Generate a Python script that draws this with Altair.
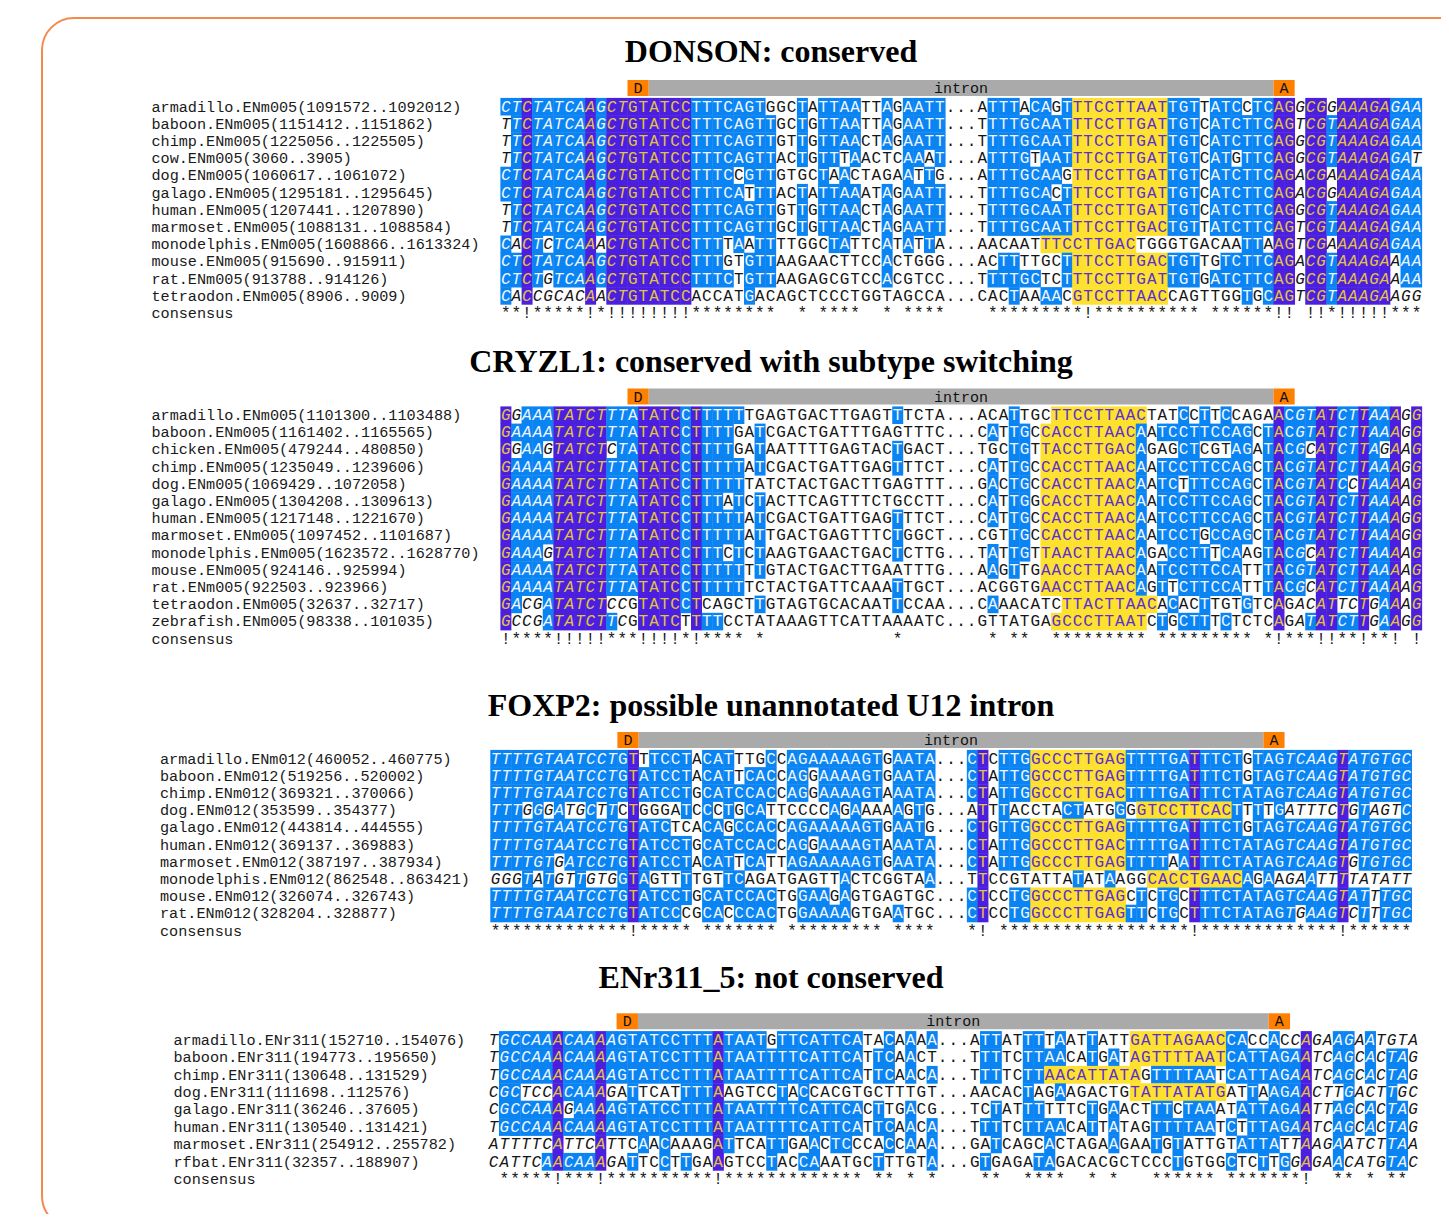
import altair as alt
import pandas as pd
from collections import Counter

# ---------------- data ----------------
TITLES = ["DONSON: conserved",
          "CRYZL1: conserved with subtype switching",
          "FOXP2: possible unannotated U12 intron",
          "ENr311_5: not conserved"]

P1_LABELS = ["armadillo.ENm005(1091572..1092012)", "baboon.ENm005(1151412..1151862)",
             "chimp.ENm005(1225056..1225505)", "cow.ENm005(3060..3905)",
             "dog.ENm005(1060617..1061072)", "galago.ENm005(1295181..1295645)",
             "human.ENm005(1207441..1207890)", "marmoset.ENm005(1088131..1088584)",
             "monodelphis.ENm005(1608866..1613324)", "mouse.ENm005(915690..915911)",
             "rat.ENm005(913788..914126)", "tetraodon.ENm005(8906..9009)"]
P1_LEFT = ["CTCTATCAAGCTGTATCCTTTCAGTGGCTATTAATTAGAATT",
           "TTCTATCAAGCTGTATCCTTTCAGTTGCTGTTAATTAGAATT",
           "TTCTATCAAGCTGTATCCTTTCAGTTGTTGTTAACTAGAATT",
           "TTCTATCAAGCTGTATCCTTTCAGTTACTGTTTAACTCAAAT",
           "CTCTATCAAGCTGTATCCTTTCCGTTGTGCTAACTAGAATTG",
           "CTCTATCAAGCTGTATCCTTTCATTTACTATTAAATAGAATT",
           "TTCTATCAAGCTGTATCCTTTCAGTTGTTGTTAACTAGAATT",
           "TTCTATCAAGCTGTATCCTTTCAGTTGCTGTTAACTAGAATT",
           "CACTCTCAAACTGTATCCTTTTAATTTTGGCTATTCATATTA",
           "CTCTATCAAGCTGTATCCTTTGTGTTAAGAACTTCCACTGGG",
           "CTCTGTCAAGCTGTATCCTTTCTGTTAAGAGCGTCCACGTCC",
           "CACCGCACAACTGTATCCACCATGACAGCTCCCTGGTAGCCA"]
P1_RIGHT = ["ATTTACAGTTTCCTTAATTGTTATCCTCAGGCGGAAAGAGAA",
            "TTTTGCAATTTCCTTGATTGTCATCTTCAGTCGTAAAGAGAA",
            "TTTTGCAATTTCCTTGATTGTCATCTTCAGGCGTAAAGAGAA",
            "ATTTGTAATTTCCTTGATTGTCATGTTCAGGCGTAAAGAGAT",
            "ATTTGCAAGTTCCTTGATTGTCATCTTCAGACGAAAAGAGAA",
            "TTTTGCACTTTCCTTGATTGTCATCTTCAGACGGAAAGAGAA",
            "TTTTGCAATTTCCTTGATTGTCATCTTCAGGCGTAAAGAGAA",
            "TTTTGCAATTTCCTTGACTGTTATCTTCAGTCGTAAAGAGAA",
            "AACAATTTCCTTGACTGGGTGACAATTAAGTCGAAAAGAGAA",
            "ACTTTTGCTTTCCTTGACTGTTGTCTTCAGACGTAAAGAAAA",
            "TTTTGCTCTTTCCTTGATTGTGATCTTCAGGCGTAAAGAAAA",
            "CACTAAAACGTCCTTAACCAGTTGGTGCAGTCGTAAAGAAGG"]
P1_CONS = ("**!*****!*!!!!!!!!********  * ****  * ****"
           "   "
           " *********!********** ******!! !!*!!!!!***")
P1_YELLOW = [(54, 62)] * 8 + [(51, 59), (54, 62), (54, 62), (54, 62)]

P2_LABELS = ["armadillo.ENm005(1101300..1103488)", "baboon.ENm005(1161402..1165565)",
             "chicken.ENm005(479244..480850)", "chimp.ENm005(1235049..1239606)",
             "dog.ENm005(1069429..1072058)", "galago.ENm005(1304208..1309613)",
             "human.ENm005(1217148..1221670)", "marmoset.ENm005(1097452..1101687)",
             "monodelphis.ENm005(1623572..1628770)", "mouse.ENm005(924146..925994)",
             "rat.ENm005(922503..923966)", "tetraodon.ENm005(32637..32717)",
             "zebrafish.ENm005(98338..101035)"]
P2_LEFT = ["GGAAATATCTTTATATCCTTTTTTGAGTGACTTGAGTTTCTA",
           "GAAAATATCTTTATATCCTTTTGATCGACTGATTTGAGTTTC",
           "GGAAGTATCTCTATATCCTTTTGATAATTTTGAGTACTGACT",
           "GAAAATATCTTTATATCCTTTTTATCGACTGATTGAGTTTCT",
           "GAAAATATCTTTATATCCTTTTTTATCTACTGACTTGAGTTT",
           "GAAAATATCTTTATATCCTTTATCTACTTCAGTTTCTGCCTT",
           "GAAAATATCTTTATATCCTTTTTATCGACTGATTGAGTTTCT",
           "GAAAATATCTTTATATCCTTTTTATTGACTGAGTTTCTGGCT",
           "GAAAGTATCTTTATATCCTTTCTCTAAGTGAACTGACTCTTG",
           "GAAAATATCTTTATATCCTTTTTTTGTACTGACTTGAATTTG",
           "GAAAATATCTTTATATCCTTTTTTCTACTGATTCAAATTGCT",
           "GACGATATCTCCGTATCCTCAGCTTGTAGTGCACAATTCCAA",
           "GCCGATATCTTCGTATCTTTTCCTATAAAGTTCATTAAAATC"]
P2_RIGHT = ["ACATTGCTTCCTTAACTATCCTTCCAGAACGTATCTTAAAGG",
            "CATTGCCACCTTAACAATCCTTCCAGCTACGTATCTTAAAGG",
            "TGCTGTTACCTTGACAGAGCTCGTAGATACGCATCTTAGAAG",
            "CATTGCCACCTTAACAATCCTTCCAGCTACGTATCTTAAAGG",
            "GACTGCCACCTTAACAATCTTTCCAGCTACGTATCCTAAAAG",
            "CATTGGCACCTTAACAATCCTTCCAGCTACGTATCTTAAAAG",
            "CATTGCCACCTTAACAATCCTTCCAGCTACGTATCTTAAAGG",
            "CGTTGCCACCTTAACAATCCTGCCAGCTACGTATCTTAAAGG",
            "TATTGTTAACTTAACAGACCTTTCAAGTACGCATCTTAAAAG",
            "AAGTTGAACCTTAACAATCCTTCCATTTACGTATCTTAAAAG",
            "ACGGTGAACCTTAACAGTTCTTCCATTTACGCATCTTAAAAG",
            "CAAACATCTTACTTAACACACTTGTGTCAGACATTCTGAAAG",
            "GTTATGAGCCCTTAATCTGCTTTCTCTCAGATATCTTGAAGG"]
P2_CONS = ("!****!!!!!***!!!!*!**** *            *    "
           "   "
           " * **  ********* ********* *!***!!**!**! !")
P2_YELLOW = [(52, 60)] + [(51, 59)] * 10 + [(53, 61), (52, 60)]

P3_LABELS = ["armadillo.ENm012(460052..460775)", "baboon.ENm012(519256..520002)",
             "chimp.ENm012(369321..370066)", "dog.ENm012(353599..354377)",
             "galago.ENm012(443814..444555)", "human.ENm012(369137..369883)",
             "marmoset.ENm012(387197..387934)", "monodelphis.ENm012(862548..863421)",
             "mouse.ENm012(326074..326743)", "rat.ENm012(328204..328877)"]
P3_LEFT = ["TTTTGTAATCCTGTTTCCTACATTTGCCAGAAAAAGTGAATA",
           "TTTTGTAATCCTGTATCCTACATTCACCAGGAAAAGTGAATA",
           "TTTTGTAATCCTGTATCCTGCATCCACCAGGAAAAGTAAATA",
           "TTTGGGATGCTTCTGGGATCCCTGCATTCCCCAGAAAAAGTG",
           "TTTTGTAATCCTGTATCTCACAGCCACCAGAAAAAGTGAATG",
           "TTTTGTAATCCTGTATCCTGCATCCACCAGGAAAAGTAAATA",
           "TTTTGTGATCCTGTATCCTACATTCATTAGAAAAAGTGAATA",
           "GGGTATGTTGTGGTAGTTTTGTTCAGATGAGTTACTCGGTAA",
           "TTTTGTAATCCTGTATCCTGCATCCACTGGAAGAGTGAGTGC",
           "TTTTGTAATCCTGTATCCCGCACCCACTGGAAAAGTGAATGC"]
P3_RIGHT = ["CTCTTGGCCCTTGAGTTTTGATTTCTGTAGTCAAGTATGTGC",
            "CTATTGGCCCTTGAGTTTTGATTTCTGTAGTCAAGTATGTGC",
            "CTATTGGCCCTTGACTTTTGATTTCTATAGTCAAGTATGTGC",
            "ATTTACCTACTATGGGGTCCTTCACTTTTGATTTCTGTAGTC",
            "CTGTTGGCCCTTGAGTTTTGATTTCTGTAGTCAAGTATGTGC",
            "CTATTGGCCCTTGACTTTTGATTTCTATAGTCAAGTATGTGC",
            "CTATTGGCCCTTGAGTTTTAATTTCTATAGTCAAGTGTGTGC",
            "TTCCGTATTATATAAGGCACCTGAACAGAAGAATTTTATATT",
            "CTCCTGGCCCTTGAGCTCTGCTTTCTATAGTCAAGTATTTGC",
            "CTCCTGGCCCTTGAGTTCTGCTTTCTATAGTGAAGTCTTTGC"]
P3_CONS = ("*************!***** ******* ********* ****"
           "   "
           "*! ******************!*************!******")
P3_YELLOW = [(51, 59)] * 3 + [(61, 69)] + [(51, 59)] * 3 + [(62, 70)] + [(51, 59)] * 2

P4_LABELS = ["armadillo.ENr311(152710..154076)", "baboon.ENr311(194773..195650)",
             "chimp.ENr311(130648..131529)", "dog.ENr311(111698..112576)",
             "galago.ENr311(36246..37605)", "human.ENr311(130540..131421)",
             "marmoset.ENr311(254912..255782)", "rfbat.ENr311(32357..188907)"]
P4_LEFT = ["TGCCAAACAAAAGTATCCTTTATAATGTTCATTCATACAAAA",
           "TGCCAAACAAAAGTATCCTTTATAATTTTCATTCATTCAACT",
           "TGCCAAACAAAAGTATCCTTTATAATTTTCATTCATTCAACA",
           "CGCTCCACAAAGATTCATTTTAAGTCCTACCACGTGCTTTGT",
           "CGCCAAAGAAAAGTATCCTTTATAATTTTCATTCACTTGACG",
           "TGCCAAACAAAAGTATCCTTTATAATTTTCATTCATTCAACA",
           "ATTTTCATTCATTCAACAAAGATTCATTGAACTCCCACCAAA",
           "CATTCAACAAAGATTCCTTGAAGTCCTACCAAATGCTTTGTA"]
P4_RIGHT = ["ATTATTTTAATTATTGATTAGAACCACCACCAGAAGAATGTA",
            "TTTTCTTAACATGATAGTTTTAATCATTAGAATCAGCACTAG",
            "TTTTCTTAACATTATAGTTTTAATCATTAGAATCAGCACTAG",
            "AACACTAGAAGACTGTATTATATGATTAAGAACTTGACTTGC",
            "TCTATTTTTTCTGAACTTTCTAAATATTAGAATTAGCACTAG",
            "TTTTCTTAACATTATAGTTTTAATCTTTAGAATCAGCACTAG",
            "GATCAGCACTAGAAGAATGTATTGTATTATTAAGAATCTTAA",
            "GTGAGATAGACACGCTCCCTGTGGCTCTTGGAGAACATGTAC"]
P4_CONS = (" *****!***!**********!************* ** * *"
           "   "
           " **  ****  * *   ****** *******!  ** * ** ")
P4_YELLOW = [(60, 68), (60, 68), (52, 60), (60, 68), None, None, None, None]

# ---------------- layout / style ----------------
W, H = 1433, 1206          # svg size; page offset is 8px
OFF = 8
LAYOUT = [dict(title_y=52, bar_y=88, x0=500.4, cw=10.59, rh=17.2, lab_x=151.4),
          dict(title_y=362, bar_y=396.5, x0=500.4, cw=10.59, rh=17.2, lab_x=151.4),
          dict(title_y=706, bar_y=740, x0=490.3, cw=10.59, rh=17.2, lab_x=160),
          dict(title_y=978, bar_y=1021.3, x0=488.3, cw=10.69, rh=17.4, lab_x=173.5)]
TITLE_X = 771
BLUE, PURPLE, YELLOW = "#0b84f3", "#4a1fe0", "#fde12d"
ORANGE, GRAY, BORDER = "#ff8000", "#aaaaaa", "#f28a4e"
TXT = {"b": "#eef6ff", "p": "#e3c242", "y": "#5b2fd0", "w": "#151515"}
FILL = {"b": BLUE, "p": PURPLE, "y": YELLOW}
MONO = "Liberation Mono"

PANELS = [(TITLES[0], P1_LABELS, P1_LEFT, P1_RIGHT, P1_CONS, P1_YELLOW),
          (TITLES[1], P2_LABELS, P2_LEFT, P2_RIGHT, P2_CONS, P2_YELLOW),
          (TITLES[2], P3_LABELS, P3_LEFT, P3_RIGHT, P3_CONS, P3_YELLOW),
          (TITLES[3], P4_LABELS, P4_LEFT, P4_RIGHT, P4_CONS, P4_YELLOW)]

cells, chars, labels, titles, bars, bartext = [], [], [], [], [], []
for (title, labs, left, right, cons, yel), lay in zip(PANELS, LAYOUT):
    seqs = [l + "..." + r for l, r in zip(left, right)]
    n = len(seqs)
    ncol = len(seqs[0])
    modes = [Counter(s[c] for s in seqs).most_common(1)[0][0] for c in range(ncol)]
    x0, cw, rh = lay["x0"], lay["cw"], lay["rh"]
    y1 = lay["bar_y"] + 18.5
    for i, s in enumerate(seqs):
        yc = y1 + i * rh
        ys, ye = yel[i] if yel[i] else (-1, -1)
        for c, ch in enumerate(s):
            if ys <= c <= ye:
                k = "y"
            elif cons[c] == "!":
                k = "p"
            elif cons[c] == "*" and ch == modes[c]:
                k = "b"
            else:
                k = "w"
            xl = x0 + c * cw
            if k != "w":
                cells.append(dict(x=xl - OFF, x2=xl + cw + 0.4 - OFF,
                                  y=yc - rh / 2 - OFF, y2=yc + rh / 2 + 0.4 - OFF, f=FILL[k]))
            chars.append(dict(x=xl + cw / 2 - OFF, y=yc - OFF, t=ch, c=TXT[k],
                              it=(c < 12 or c > 74) and ch != "."))
    # consensus line
    yc = y1 + n * rh
    for c, ch in enumerate(cons):
        if ch != " ":
            chars.append(dict(x=x0 + c * cw + cw / 2 - OFF, y=yc - OFF, t=ch, c=TXT["w"], it=False))
    # labels
    for i, t in enumerate(labs + ["consensus"]):
        labels.append(dict(x=lay["lab_x"] - OFF, y=y1 + i * rh - OFF, t=t))
    titles.append(dict(x=TITLE_X - OFF, y=lay["title_y"] - OFF, t=title))
    by = lay["bar_y"]
    bars.append(dict(x=x0 + 14 * cw - OFF, x2=x0 + 73 * cw - OFF, y=by - 8 - OFF, y2=by + 8 - OFF, f=GRAY))
    bars.append(dict(x=x0 + 12 * cw - OFF, x2=x0 + 14 * cw - OFF, y=by - 8 - OFF, y2=by + 8 - OFF, f=ORANGE))
    bars.append(dict(x=x0 + 73 * cw - OFF, x2=x0 + 75 * cw - OFF, y=by - 8 - OFF, y2=by + 8 - OFF, f=ORANGE))
    bartext.append(dict(x=x0 + 13 * cw - OFF, y=by - OFF, t="D"))
    bartext.append(dict(x=x0 + 74 * cw - OFF, y=by - OFF, t="A"))
    bartext.append(dict(x=x0 + 43.5 * cw - OFF, y=by - OFF, t="intron"))

XS = alt.Scale(domain=[0, W], nice=False, zero=False)
YS = alt.Scale(domain=[0, H], nice=False, zero=False, reverse=True)


def xy(extra=True):
    enc = dict(x=alt.X("x:Q", scale=XS, axis=None), y=alt.Y("y:Q", scale=YS, axis=None))
    if extra:
        enc.update(x2="x2:Q", y2="y2:Q")
    return enc


border = alt.Chart(pd.DataFrame({"k": [0]})).mark_rect(
    fillOpacity=0, stroke=BORDER, strokeWidth=2, cornerRadius=32
).encode(x=alt.value(34), x2=alt.value(W + 80), y=alt.value(10), y2=alt.value(1220))

cell_layer = alt.Chart(pd.DataFrame(cells)).mark_rect().encode(
    **xy(), color=alt.Color("f:N", scale=None))
bar_layer = alt.Chart(pd.DataFrame(bars)).mark_rect().encode(
    **xy(), color=alt.Color("f:N", scale=None))

cdf = pd.DataFrame(chars)
char_up = alt.Chart(cdf[~cdf.it]).mark_text(
    font=MONO, fontSize=16, align="center", baseline="middle"
).encode(**xy(False), text="t:N", color=alt.Color("c:N", scale=None))
char_it = alt.Chart(cdf[cdf.it]).mark_text(
    font=MONO, fontSize=16, fontStyle="italic", align="center", baseline="middle"
).encode(**xy(False), text="t:N", color=alt.Color("c:N", scale=None))

label_layer = alt.Chart(pd.DataFrame(labels)).mark_text(
    font=MONO, fontSize=15.2, align="left", baseline="middle", color="#1a1a1a"
).encode(**xy(False), text="t:N")
bartext_layer = alt.Chart(pd.DataFrame(bartext)).mark_text(
    font=MONO, fontSize=15, align="center", baseline="middle", color="#111111"
).encode(**xy(False), text="t:N")
title_layer = alt.Chart(pd.DataFrame(titles)).mark_text(
    font="Liberation Serif", fontSize=32, fontWeight="bold", align="center",
    baseline="middle", color="#000000"
).encode(**xy(False), text="t:N")

chart = alt.layer(border, cell_layer, bar_layer, char_up, char_it, label_layer,
                  bartext_layer, title_layer).properties(
    width=W, height=H, padding=0, autosize=alt.AutoSizeParams(type="none"),
    background="white"
).configure_view(strokeWidth=0)

chart.save("out.html", embed_options={"renderer": "svg", "actions": False})
